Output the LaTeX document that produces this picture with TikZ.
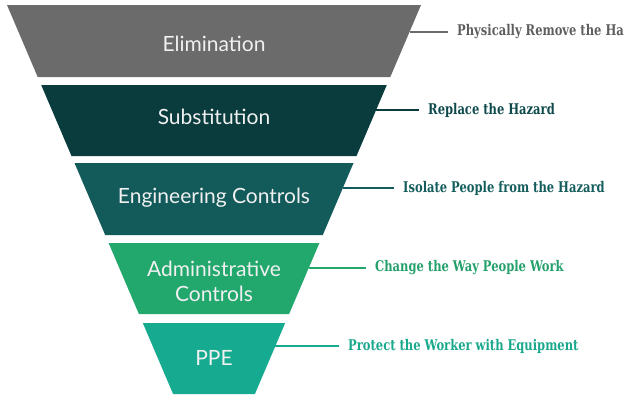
\documentclass[tikz,border=0pt]{standalone}
\usepackage{fontspec}
\setmainfont{Lato}
\newfontfamily\slab{DejaVu Serif Condensed}
\definecolor{cElim}{HTML}{6B6B6B}
\definecolor{tElim}{HTML}{5E5E5E}
\definecolor{cSub}{HTML}{0A3C3E}
\definecolor{tSub}{HTML}{0E4A4C}
\definecolor{cEng}{HTML}{135A5B}
\definecolor{tEng}{HTML}{155C5C}
\definecolor{cAdm}{HTML}{22A86C}
\definecolor{tAdm}{HTML}{24A06B}
\definecolor{cPPE}{HTML}{16AB90}
\definecolor{tPPE}{HTML}{1AA88C}
\newcommand{\tallish}[1]{\scalebox{1}[1.15]{#1}}
\begin{document}
\begin{tikzpicture}[x=1pt,y=-1pt,
  layertext/.style={text=white!94!black, font=\fontsize{21}{25}\selectfont, align=center, inner sep=0pt},
  sidelabel/.style={anchor=west, inner ysep=0pt, inner xsep=9pt, font=\slab\bfseries\fontsize{12.8}{15}\selectfont},
  link/.style={line width=1.5pt}]
\useasboundingbox (0,0) rectangle (628,394);
% layers
\fill[cElim] (7,5) -- (421,5) -- (390.3,77) -- (37.7,77) -- cycle;
\fill[cSub] (41.2,85) -- (386.8,85) -- (356.5,156) -- (71.5,156) -- cycle;
\fill[cEng] (74.5,163) -- (353.5,163) -- (322.8,235) -- (105.2,235) -- cycle;
\fill[cAdm] (108.6,243) -- (319.4,243) -- (289.1,314) -- (138.9,314) -- cycle;
\fill[cPPE] (142.8,323) -- (285.2,323) -- (254.9,394) -- (173.1,394) -- cycle;
% layer texts
\node[layertext] (elim) at (214,44) {Elimination};
\node[layertext] (subs) at (214,117) {Substitution};
\node[layertext] (eng) at (214,198) {Engineering Controls};
\node[layertext] (adm) at (214,281) {Administrative\\Controls};
\node[layertext] (ppe) at (214,358) {PPE};
% edge points
\coordinate (e1) at (409.5,32);
\coordinate (e2) at (376.2,110);
\coordinate (e3) at (342.9,188);
\coordinate (e4) at (308.7,268);
\coordinate (e5) at (275.4,346);
% side labels
\node[sidelabel, text=tElim] (l1) at (448,32) {\tallish{Physically Remove the Ha}};
\node[sidelabel, text=tSub] (l2) at (419,110) {\tallish{Replace the Hazard}};
\node[sidelabel, text=tEng] (l3) at (394,188) {\tallish{Isolate People from the Hazard}};
\node[sidelabel, text=tAdm] (l4) at (366,268) {\tallish{Change the Way People Work}};
\node[sidelabel, text=tPPE] (l5) at (339,346) {\tallish{Protect the Worker with Equipment}};
% connectors
\draw[link, cElim] (e1) -- (l1.west);
\draw[link, cSub] (e2) -- (l2.west);
\draw[link, cEng] (e3) -- (l3.west);
\draw[link, cAdm] (e4) -- (l4.west);
\draw[link, cPPE] (e5) -- (l5.west);
\end{tikzpicture}
\end{document}
